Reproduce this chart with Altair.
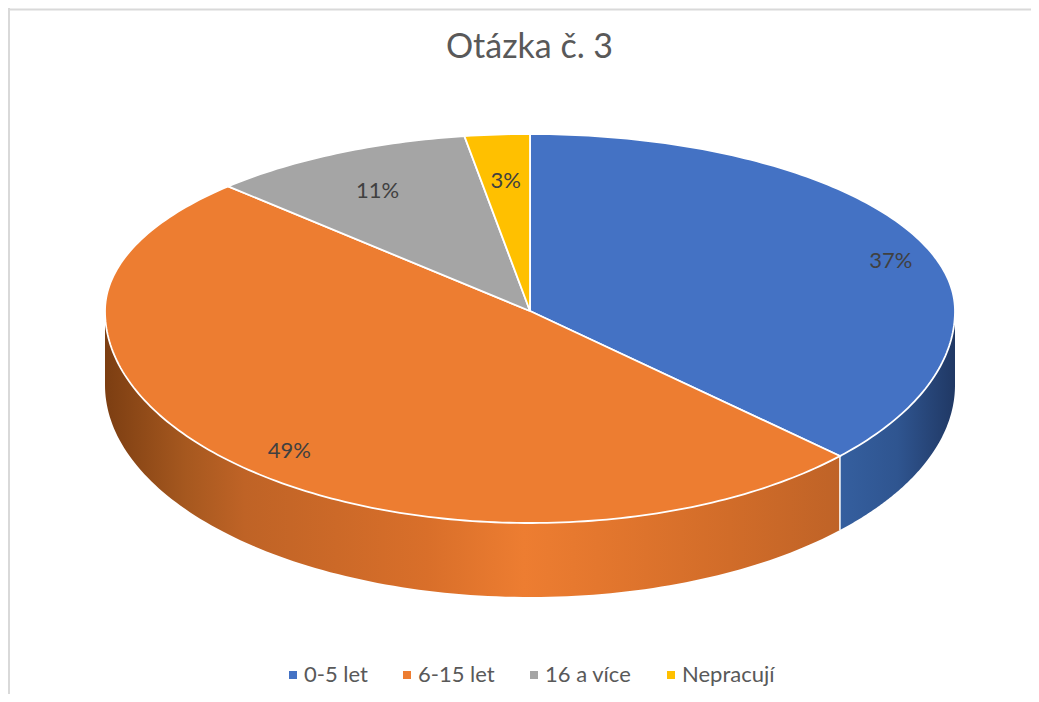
import math
import altair as alt
import pandas as pd

CATEGORIES = ["0-5 let", "6-15 let", "16 a více", "Nepracují"]
VALUES = [37.4, 49.3, 10.6, 2.7]
LABELS = ["37%", "49%", "11%", "3%"]
COLORS = ["#4472c4", "#ed7d31", "#a5a5a5", "#ffc000"]
LABEL_RADII = [0.895, 0.87, 0.767, 0.737]
LABEL_TURN = [5.8, -4.2, -1.3, 0.0]   # degrees
TITLE = "Otázka č. 3"

W, H = 1023, 686
CX, CY = 530.0, 311.0     # pie centre on the page
RX = 425.0                # half width of the disk
RY_BACK, RY_FRONT = 177.0, 212.0   # perspective: far half is flatter than near half
G_BACK, G_FRONT = 0.912, 1.0525    # perspective squeeze of the angles
DEPTH = 74.0
X_DOM = [8 - CX, 8 + W - CX]
Y_DOM = [CY - 8 - H, CY - 8]


def project(theta, r=1.0):
    s, c = math.sin(theta), math.cos(theta)
    if c >= 0:
        phi = math.atan2(G_BACK * s, c)
        ry = RY_BACK
    else:
        phi = math.atan2(G_FRONT * s, c)
        ry = RY_FRONT
    return r * RX * math.sin(phi), r * ry * math.cos(phi)


x_scale = alt.Scale(domain=X_DOM, range=[0, W], nice=False, zero=False)
y_scale = alt.Scale(domain=Y_DOM, range=[H, 0], nice=False, zero=False)
X = alt.X("x:Q", scale=x_scale, axis=None)
Y = alt.Y("y:Q", scale=y_scale, axis=None)

edges = [0.0]
for v in VALUES:
    edges.append(edges[-1] + v / sum(VALUES) * 2 * math.pi)

th_right = math.pi / 2
th_left = 3 * math.pi / 2

top_rows, side_rows, label_rows = [], {}, []
for i, name in enumerate(CATEGORIES):
    a, b = edges[i], edges[i + 1]
    n = max(4, int((b - a) * 60))
    pts = [(0.0, 0.0)] + [project(a + (b - a) * j / n) for j in range(n + 1)] + [(0.0, 0.0)]
    for j, (x, y) in enumerate(pts):
        top_rows.append({"slice": name, "ord": j, "x": x, "y": y})
    lo, hi = max(a, th_right), min(b, th_left)
    if hi > lo:
        rows = []
        for j in range(121):
            x, y = project(lo + (hi - lo) * j / 120)
            rows.append({"x": x, "y": y, "y2": y - DEPTH})
        side_rows[i] = rows
    lx, ly = project((a + b) / 2 + math.radians(LABEL_TURN[i]), LABEL_RADII[i])
    label_rows.append({"x": lx, "y": ly, "text": LABELS[i]})

side_stops = {
    0: [("#355f9f", 0), ("#2f5590", 0.5), ("#203864", 1)],
    1: [("#7c3e12", 0), ("#a6581f", 0.11), ("#bf6326", 0.19), ("#d96f2a", 0.44),
        ("#ed7d31", 0.57), ("#e4772e", 0.67), ("#d16c29", 0.85), ("#bf6327", 1)],
}


def gradient(stops):
    return alt.Gradient(
        gradient="linear", x1=0, x2=1, y1=0, y2=0,
        stops=[alt.GradientStop(color=c, offset=o) for c, o in stops],
    )


layers = []

layers.append(
    alt.Chart(pd.DataFrame({"a": [0]})).mark_rule(color="#d9d9d9", strokeWidth=2).encode(
        x=alt.value(1), y=alt.value(0), y2=alt.value(H))
)
layers.append(
    alt.Chart(pd.DataFrame({"a": [0]})).mark_rule(color="#d9d9d9", strokeWidth=2).encode(
        y=alt.value(1.5), x=alt.value(0), x2=alt.value(W))
)

for i, rows in side_rows.items():
    layers.append(
        alt.Chart(pd.DataFrame(rows)).mark_area(fill=gradient(side_stops[i]), line=False).encode(
            x=X, y=Y, y2="y2:Q")
    )

bx, by = project(edges[1])
layers.append(
    alt.Chart(pd.DataFrame([{"x": bx, "y": by, "y2": by - DEPTH}]))
    .mark_rule(color="white", strokeWidth=1.5)
    .encode(x=X, y=Y, y2="y2:Q")
)

layers.append(
    alt.Chart(pd.DataFrame(top_rows)).mark_line(stroke="white", strokeWidth=1.8, strokeJoin="miter").encode(
        x=X, y=Y,
        order="ord:Q",
        fill=alt.Fill(
            "slice:N",
            scale=alt.Scale(domain=CATEGORIES, range=COLORS),
            legend=alt.Legend(
                title=None, orient="none", legendX=274, legendY=656, direction="horizontal",
                symbolType="square", symbolSize=64, symbolStrokeWidth=0,
                labelFont="Lato", labelFontSize=22, labelColor="#595959",
                labelOffset=0, columnPadding=28, columns=4,
            ),
        ),
    )
)

layers.append(
    alt.Chart(pd.DataFrame(label_rows)).mark_text(
        font="Lato", fontSize=22, color="#404040", align="center", baseline="middle"
    ).encode(x=X, y=Y, text="text:N")
)

chart = (
    alt.layer(*layers)
    .properties(
        width=W, height=H, padding=0, autosize=alt.AutoSizeParams(type="none"),
        title=alt.TitleParams(
            TITLE, font="Lato", fontSize=34, fontWeight="normal", color="#595959",
            anchor="middle", dx=10, offset=-58,
        ),
    )
    .configure_view(stroke=None)
)

chart.save("out.html", embed_options={"renderer": "svg", "actions": False})
